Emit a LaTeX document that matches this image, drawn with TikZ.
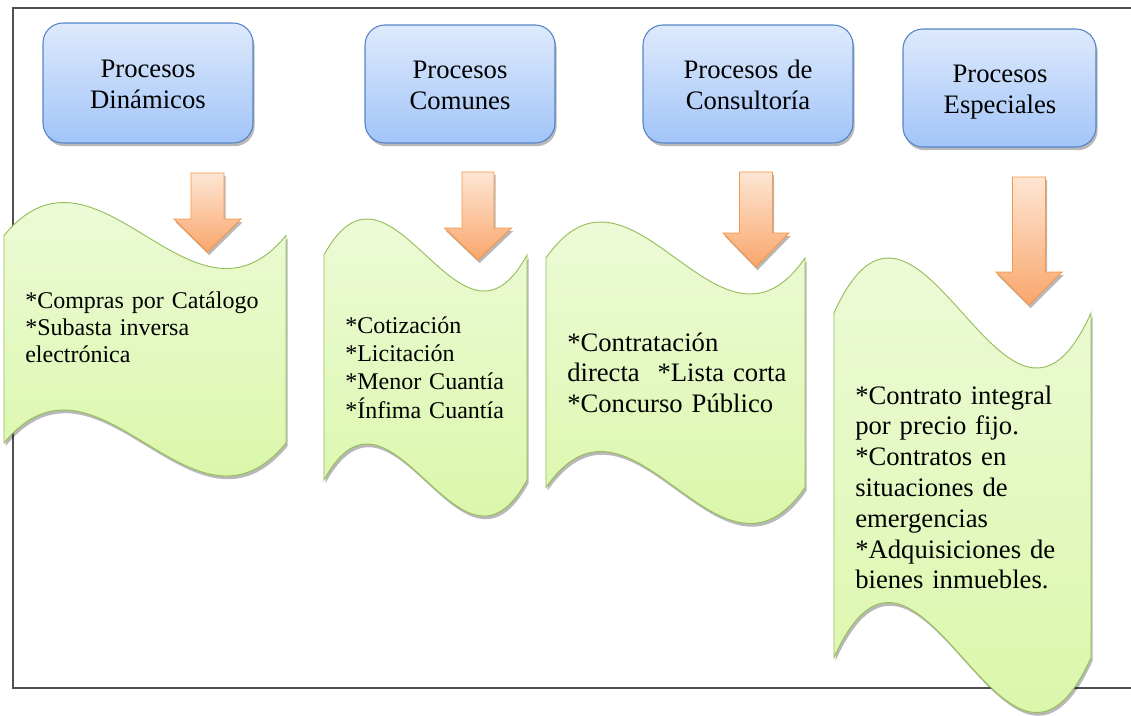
\documentclass[tikz,border=0pt]{standalone}
\usepackage{fontspec}
\setmainfont{Liberation Serif}
\usetikzlibrary{shadows}
\definecolor{boxtop}{RGB}{222,234,252}
\definecolor{boxbot}{RGB}{162,196,248}
\definecolor{boxline}{RGB}{84,132,200}
\definecolor{wavetop}{RGB}{242,251,228}
\definecolor{wavebot}{RGB}{214,246,158}
\definecolor{waveline}{RGB}{150,190,90}
\definecolor{arrtop}{RGB}{253,230,212}
\definecolor{arrbot}{RGB}{249,166,108}
\definecolor{arrline}{RGB}{247,150,70}
\definecolor{frameline}{RGB}{80,80,80}
\tikzset{
  softshadow/.style={drop shadow={shadow xshift=1.2pt, shadow yshift=-2.4pt, opacity=0.28, fill=black}},
  procbox/.style={draw=boxline, line width=0.8pt, rounded corners=15pt, top color=boxtop, bottom color=boxbot, softshadow, inner sep=0pt},
  boxtext/.style={anchor=base, align=center, text width=150pt, inner sep=0pt, font=\fontsize{20pt}{23.25pt}\selectfont},
  wavestyle/.style={draw=waveline, line width=0.7pt, top color=wavetop, bottom color=wavebot, softshadow},
  arrowstyle/.style={draw=arrline, line width=0.7pt, top color=arrtop, bottom color=arrbot, softshadow},
  wavetext/.style={anchor=base west, align=left, text width=260pt, inner sep=0pt},
}
\newcommand\wavebox[5]{%
  \path[wavestyle] (#1,#3) .. controls ({#1+(#2-#1)/3},{#3-3.464*#5}) and ({#1+2*(#2-#1)/3},{#3+3.464*#5}) .. (#2,#3)
    -- (#2,#4) .. controls ({#1+2*(#2-#1)/3},{#4+3.464*#5}) and ({#1+(#2-#1)/3},{#4-3.464*#5}) .. (#1,#4) -- cycle;}
\newcommand\blockarr[6]{%
  \path[arrowstyle] ({#1-#5},#2) -- ({#1+#5},#2) -- ({#1+#5},#3) -- ({#1+#6},#3) -- (#1,#4)
    -- ({#1-#6},#3) -- ({#1-#5},#3) -- cycle;}
\begin{document}
\begin{tikzpicture}[x=0.75pt,y=-0.75pt]
\useasboundingbox (0,0) rectangle (1131,715);
% frame
\coordinate (fr1) at (1131,8);
\coordinate (fr2) at (13,8);
\coordinate (fr3) at (13,688);
\coordinate (fr4) at (1131,688);
\draw[frameline, line width=1pt] (fr1) -- (fr2) -- (fr3) -- (fr4);

% header boxes
\node[procbox, minimum width=157.5pt, minimum height=90pt] (b1) at (148,83) {};
\node[procbox, minimum width=142.5pt, minimum height=88.5pt] (b2) at (460,84) {};
\node[procbox, minimum width=157.5pt, minimum height=88.5pt] (b3) at (748,84) {};
\node[procbox, minimum width=144.75pt, minimum height=88.5pt] (b4) at (999.5,88) {};
\node[boxtext] (t1) at (148,77) {Procesos\\Dinámicos};
\node[boxtext] (t2) at (460,78) {Procesos\\Comunes};
\node[boxtext] (t3) at (748,78) {Procesos de\\Consultoría};
\node[boxtext] (t4) at (1000,82) {Procesos\\Especiales};

% wave shapes
\wavebox{4}{286}{235.5}{443}{33}
\wavebox{324}{527}{255}{480}{36}
\wavebox{546}{805}{258}{487.5}{36}
\wavebox{834}{1091}{313}{657.5}{55}

% arrows
\blockarr{207.5}{173}{219}{252}{16.5}{33.5}
\blockarr{478}{172}{228}{260}{16}{33.5}
\blockarr{756}{172}{233}{267}{16.5}{33}
\blockarr{1029}{177}{272}{305}{16.5}{33}

% wave texts
\node[wavetext, font=\fontsize{18pt}{20.25pt}\selectfont] (w1) at (25,308)
  {*Compras por Catálogo\\{}*Subasta inversa\\{}electrónica};
\node[wavetext, font=\fontsize{18pt}{21.25pt}\selectfont] (w2) at (345,333)
  {*Cotización\\{}*Licitación\\{}*Menor Cuantía\\{}*Ínfima Cuantía};
\node[wavetext, font=\fontsize{20pt}{22.9pt}\selectfont] (w3) at (567,351)
  {*Contratación\\{}directa~ *Lista corta\\{}*Concurso Público};
\node[wavetext, font=\fontsize{20pt}{23.1pt}\selectfont] (w4) at (855,404)
  {*Contrato integral\\{}por precio fijo.\\{}*Contratos en\\{}situaciones de\\{}emergencias\\{}*Adquisiciones de\\{}bienes inmuebles.};
\end{tikzpicture}
\end{document}
